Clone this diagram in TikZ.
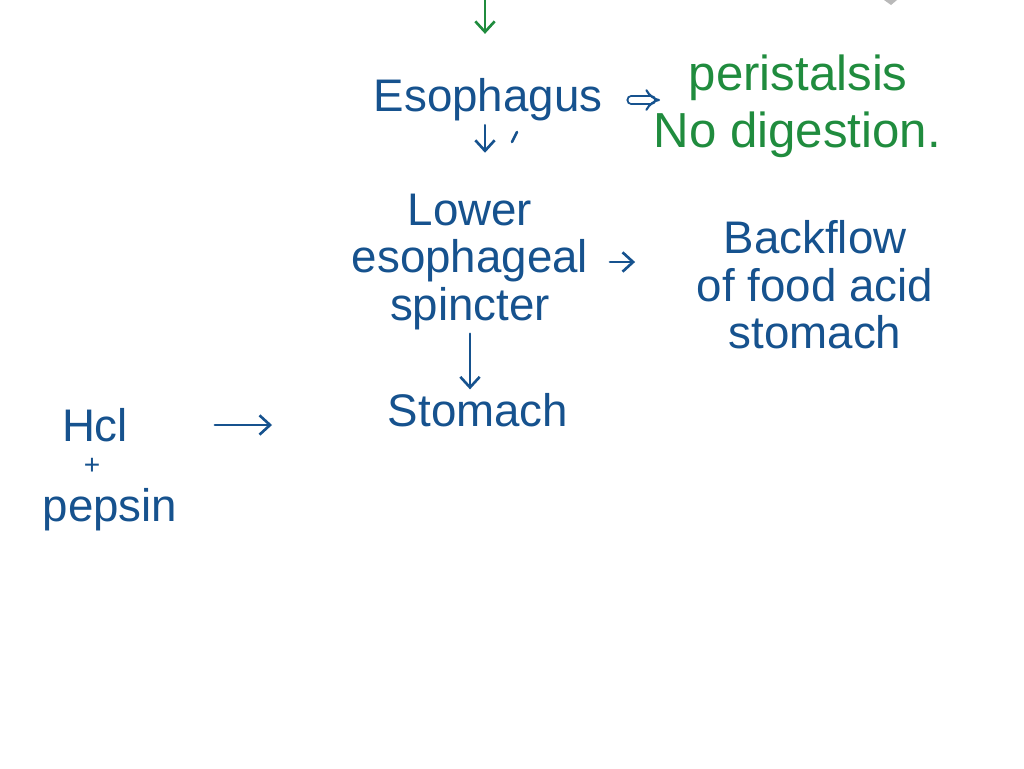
\documentclass[tikz,border=0pt]{standalone}
\usepackage{fontspec}
\setmainfont{Liberation Sans}
\usetikzlibrary{positioning,arrows.meta}
\definecolor{ink}{RGB}{22,82,142}
\definecolor{leaf}{RGB}{32,140,62}

\begin{document}
\begin{tikzpicture}[x=0.02cm,y=-0.02cm,
	every node/.style={inner sep=2pt,text=ink,font=\fontsize{26}{27}\selectfont},
	note/.style={text=leaf,font=\fontsize{28}{30}\selectfont},
	arr/.style={draw=ink,line width=1.5pt,line cap=round,-{Straight Barb[length=6pt,width=11pt]}}]
\useasboundingbox[fill=white] (0,0) rectangle (1024,768);
\node (esoph) at (488,100) {Esophagus};
\node[note,anchor=west] (peri) at (685,78) {peristalsis};
\node[note,anchor=west] (nodig) at (650,135) {No digestion.};
\node[align=center] (les) at (470,262) {Lower\\esophageal\\spincter};
\node[align=center] (back) at (815,285) {Backflow\\of food acid\\stomach};
\node (stom) at (478,410) {Stomach};
\node (hcl) at (95,425) {Hcl};
\node[inner sep=0pt,font=\fontsize{16}{16}\selectfont] (plus) at (92,466) {+};
\node (pep) at (110,510) {pepsin};
\coordinate (top) at (485,0);
% arrows
\draw[arr,draw=leaf,shorten >=0.82cm] (top) -- (top |- esoph.north);
\draw[arr,double,double distance=3pt,line width=1.2pt,shorten >=0.5cm,-{Implies}] (esoph.east) ++(0.5cm,0) -- (peri.west |- esoph.east);
\draw[arr,shorten >=0.75cm] (esoph.south -| top) -- (les.north -| top);
\draw[arr,shorten <=0.36cm,shorten >=1.16cm] (les.east) -- (les.east -| back.west);
\draw[arr] (les.south) -- (les.south |- stom.north);
\draw[arr,shorten <=1.66cm,shorten >=2.24cm] (hcl.east) -- (hcl.east -| stom.west);
\draw[ink,line width=1.5pt,line cap=round] (512,142) -- (517,132);
\fill[gray!55] (884,0) -- (897,0) -- (891,5) -- cycle;
\end{tikzpicture}
\end{document}
